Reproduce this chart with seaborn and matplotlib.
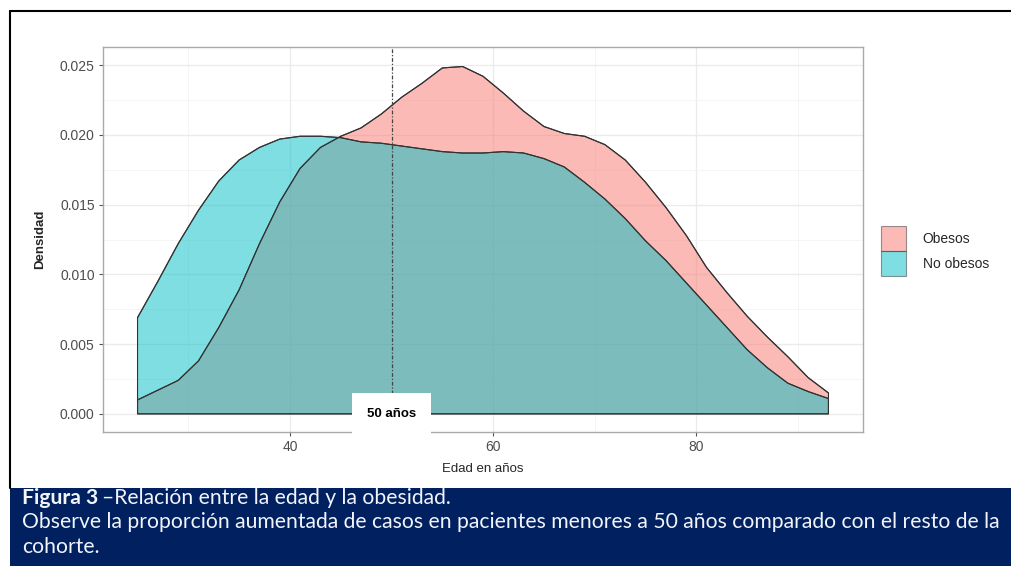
import matplotlib
matplotlib.use("Agg")
import matplotlib.pyplot as plt
import matplotlib.patches as mpatches
import numpy as np
import pandas as pd
import seaborn as sns

# Density estimates (age grid, step 2 years)
edad = [25, 27, 29, 31, 33, 35, 37, 39, 41, 43, 45, 47, 49, 51, 53, 55, 57, 59,
        61, 63, 65, 67, 69, 71, 73, 75, 77, 79, 81, 83, 85, 87, 89, 91, 93]
dens_obesos = [0.0010, 0.0017, 0.0024, 0.0038, 0.0062, 0.0089, 0.0122, 0.0152,
               0.0176, 0.0191, 0.0199, 0.0205, 0.0215, 0.0227, 0.0237, 0.0248,
               0.0249, 0.0242, 0.0230, 0.0217, 0.0206, 0.0201, 0.0199, 0.0193,
               0.0182, 0.0166, 0.0148, 0.0128, 0.0105, 0.0087, 0.0070, 0.0055,
               0.0041, 0.0026, 0.0015]
dens_no_obesos = [0.0069, 0.0095, 0.0122, 0.0146, 0.0167, 0.0182, 0.0191, 0.0197,
                  0.0199, 0.0199, 0.0198, 0.0195, 0.0194, 0.0192, 0.0190, 0.0188,
                  0.0187, 0.0187, 0.0188, 0.0187, 0.0183, 0.0177, 0.0166, 0.0154,
                  0.0140, 0.0124, 0.0110, 0.0094, 0.0078, 0.0062, 0.0046, 0.0033,
                  0.0022, 0.0016, 0.0011]
grupos = ["Obesos", "No obesos"]
colores = {"Obesos": "#F8766D", "No obesos": "#00BFC4"}
corte = 50

df = pd.DataFrame({
    "edad": edad * 2,
    "densidad": dens_obesos + dens_no_obesos,
    "grupo": ["Obesos"] * len(edad) + ["No obesos"] * len(edad),
})

sns.set_theme(style="white")
plt.rcParams["font.family"] = ["Liberation Sans", "DejaVu Sans"]

W, H = 1011, 566
fig = plt.figure(figsize=(W / 100, H / 100), dpi=100)
ax = fig.add_axes([103 / W, 1 - 432 / H, (863 - 103) / W, (432 - 47) / H])

# grid (theme_bw look)
ax.set_axisbelow(True)
ax.set_xticks([30, 50, 70, 90], minor=True)
ax.set_yticks(np.arange(0.0025, 0.026, 0.005), minor=True)
ax.grid(which="major", color="#EBEBEB", linewidth=1.0)
ax.grid(which="minor", color="#F4F4F4", linewidth=0.6)

for g in grupos:
    sub = df[df["grupo"] == g]
    ax.fill_between(sub["edad"], 0, sub["densidad"], facecolor=colores[g],
                    alpha=0.5, edgecolor="none", zorder=2)
    ax.fill_between(sub["edad"], 0, sub["densidad"], facecolor="none",
                    edgecolor="#333333", linewidth=0.8, zorder=3)
sns.lineplot(data=df, x="edad", y="densidad", hue="grupo",
             palette={"Obesos": "#333333", "No obesos": "#333333"},
             linewidth=0.8, legend=False, ax=ax, zorder=3)

ax.axvline(corte, color="#444444", linewidth=0.9, linestyle=(0, (1, 1.5, 3, 1.5)),
           zorder=4)
ax.text(corte, 0.0, f"{corte} años", ha="center", va="center", fontsize=9.5,
        fontweight="bold", color="black", zorder=5,
        bbox=dict(boxstyle="square,pad=1.1", facecolor="white", edgecolor="none"))

ax.set_xlim(21.6, 96.4)
ax.set_ylim(-0.0013, 0.0263)
ax.set_xticks([40, 60, 80])
ax.set_yticks([0, 0.005, 0.010, 0.015, 0.020, 0.025])
ax.set_yticklabels(["0.000", "0.005", "0.010", "0.015", "0.020", "0.025"])
ax.tick_params(axis="both", which="major", length=3, width=0.8, color="#555555",
               labelsize=10, labelcolor="#4D4D4D", pad=3, left=True, bottom=True)
ax.tick_params(which="minor", length=0)
for s in ax.spines.values():
    s.set_color("#AAAAAA")
    s.set_linewidth(1.0)

ax.set_xlabel("Edad en años", fontsize=9.5, labelpad=6)
ax.set_ylabel("Densidad", fontsize=9.5, fontweight="bold", labelpad=10)

# legend
handles = [mpatches.Patch(facecolor=colores[g], alpha=0.5, edgecolor="#333333",
                          linewidth=0.8) for g in grupos]
fig.legend(handles, grupos, loc="center left", bbox_to_anchor=(881 / W, 1 - 251 / H),
           frameon=False, fontsize=10, handlelength=1.8, handleheight=2.4,
           labelspacing=0.0, handletextpad=1.2, borderaxespad=0, borderpad=0)

# outer frame and caption band
fig.add_artist(plt.Line2D([10 / W, 10 / W], [1 - 488 / H, 1 - 11 / H], color="black",
                          linewidth=1.5, transform=fig.transFigure))
fig.add_artist(plt.Line2D([10 / W, 1.0], [1 - 11 / H, 1 - 11 / H], color="black",
                          linewidth=1.5, transform=fig.transFigure))
fig.add_artist(mpatches.Rectangle((10 / W, 0), 1 - 10 / W, (566 - 488) / H,
                                  facecolor="#002060", edgecolor="none",
                                  transform=fig.transFigure))

# caption: size the font so the long line spans the band like in the original
cap_font = ["Lato", "DejaVu Sans"]
linea2 = ("Observe la proporción aumentada de casos en pacientes menores a 50 años "
          "comparado con el resto de la")
t2 = fig.text(22 / W, 1 - 522 / H, linea2, color="#F2F4FA", fontsize=12,
              va="center", family=cap_font)
fig.canvas.draw()
ancho = t2.get_window_extent().width
cap_size = 12 * 975 / ancho
t2.set_fontsize(cap_size)

t1 = fig.text(22 / W, 1 - 498 / H, "Figura 3", color="#F2F4FA", fontsize=cap_size,
              fontweight="bold", va="center", family=cap_font)
fig.canvas.draw()
bb = t1.get_window_extent()
fig.text(bb.x1 / W + 4 / W, 1 - 498 / H, "–Relación entre la edad y la obesidad.",
         color="#F2F4FA", fontsize=cap_size, va="center", family=cap_font)
fig.text(22 / W, 1 - 547 / H, "cohorte.", color="#F2F4FA", fontsize=cap_size,
         va="center", family=cap_font)

fig.savefig("out.png", dpi=100)
